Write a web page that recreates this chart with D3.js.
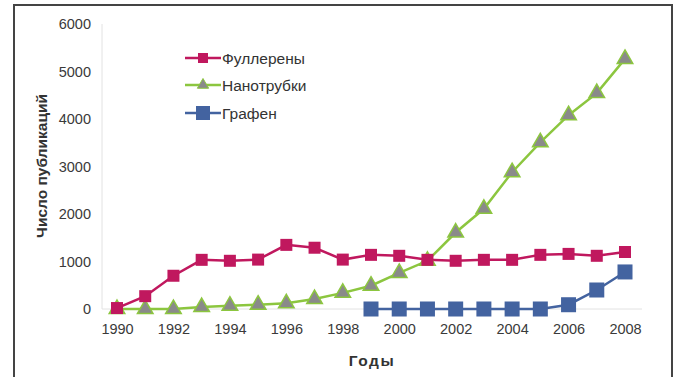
<!DOCTYPE html>
<html><head><meta charset="utf-8">
<script src="https://cdn.jsdelivr.net/npm/d3@7"></script>
<style>body{margin:0;background:#fff;}svg{display:block;font-family:"Liberation Sans",Arial,sans-serif;}</style>
</head><body>
<svg id="c" width="675" height="377"></svg>
<script>
const years = [1990,1991,1992,1993,1994,1995,1996,1997,1998,1999,2000,2001,2002,2003,2004,2005,2006,2007,2008];
const fullerenes = [20,270,700,1035,1015,1040,1350,1290,1040,1140,1120,1035,1015,1035,1035,1140,1160,1120,1200];
const nanotubes = [0,0,0,40,70,90,120,210,340,490,760,1015,1610,2110,2880,3510,4080,4545,5265];
const grapheneYears = [1999,2000,2001,2002,2003,2004,2005,2006,2007,2008];
const graphene = [0,0,0,0,0,0,0,90,400,780];
const yTicks = [0,1000,2000,3000,4000,5000,6000];
const xTicks = [1990,1992,1994,1996,1998,2000,2002,2004,2006,2008];
const seriesNames = ["Фуллерены","Нанотрубки","Графен"];

const svg = d3.select("#c");
svg.append("path").attr("d","M14,377 L14,5 L672,5 L672,377").attr("fill","none").attr("stroke","#444").attr("stroke-width",2);

const x = d3.scaleLinear().domain([1990,2008]).range([117,625]);
const y = d3.scaleLinear().domain([0,6000]).range([309,24]);

svg.append("line").attr("x1",102).attr("x2",102).attr("y1",24).attr("y2",309).attr("stroke","#e2e2e2");
svg.append("line").attr("x1",102).attr("x2",642).attr("y1",309).attr("y2",309).attr("stroke","#e2e2e2");

const tickFont = 14.5;
const yAxis = d3.axisLeft(y).tickValues(yTicks).tickSize(0).tickPadding(0).tickFormat(d3.format("d"));
const ga = svg.append("g").attr("transform","translate(91,0)").call(yAxis);
ga.select(".domain").remove();
ga.selectAll("text").attr("font-size",tickFont).attr("fill","#3a3a3a").attr("font-family","Liberation Sans, Arial, sans-serif");

const xAxis = d3.axisBottom(x).tickValues(xTicks).tickSize(0).tickPadding(0).tickFormat(d3.format("d"));
const gx = svg.append("g").attr("transform","translate(0,324)").call(xAxis);
gx.select(".domain").remove();
gx.selectAll("text").attr("font-size",tickFont).attr("fill","#3a3a3a").attr("font-family","Liberation Sans, Arial, sans-serif");

svg.append("text").attr("transform","translate(47,166) rotate(-90)").attr("text-anchor","middle")
  .attr("font-size",15.5).attr("font-weight","bold").attr("fill","#333").text("Число публикаций");
svg.append("text").attr("x",372).attr("y",366).attr("text-anchor","middle")
  .attr("font-size",15.5).attr("font-weight","bold").attr("fill","#333").attr("letter-spacing",1.5).text("Годы");

const line = d3.line().x(d=>x(d[0])).y(d=>y(d[1]));
const cF="#c0185e", cN="#8cc63f", cG="#4363a0";

const nData = years.map((yr,i)=>[yr,nanotubes[i]]);
const fData = years.map((yr,i)=>[yr,fullerenes[i]]);
const gData = grapheneYears.map((yr,i)=>[yr,graphene[i]]);

svg.append("path").datum(nData).attr("d",line).attr("fill","none").attr("stroke",cN).attr("stroke-width",2.5);
svg.append("path").datum(fData).attr("d",line).attr("fill","none").attr("stroke",cF).attr("stroke-width",2.5);
svg.append("path").datum(gData).attr("d",line).attr("fill","none").attr("stroke",cG).attr("stroke-width",2.5);

const tri = d3.symbol().type(d3.symbolTriangle).size(105);
svg.selectAll(".nt").data(nData).join("path").attr("d",tri)
  .attr("transform",d=>`translate(${x(d[0])},${y(d[1])})`).attr("fill","#8a8a8a").attr("stroke",cN).attr("stroke-width",1.5);
svg.selectAll(".fs").data(fData).join("rect")
  .attr("x",d=>x(d[0])-6).attr("y",d=>y(d[1])-6).attr("width",12).attr("height",12).attr("fill",cF);
svg.selectAll(".gs").data(gData).join("rect")
  .attr("x",d=>x(d[0])-7.5).attr("y",d=>y(d[1])-7.5).attr("width",15).attr("height",15).attr("fill",cG);

const lg = svg.append("g");
const ly = [58,85,113];
const cols=[cF,cN,cG];
seriesNames.forEach((n,i)=>{
  lg.append("line").attr("x1",185).attr("x2",221).attr("y1",ly[i]).attr("y2",ly[i]).attr("stroke",cols[i]).attr("stroke-width",2.5);
  if(i===0) lg.append("rect").attr("x",198).attr("y",ly[i]-5).attr("width",10).attr("height",10).attr("fill",cF);
  if(i===1) lg.append("path").attr("d",d3.symbol().type(d3.symbolTriangle).size(55)).attr("transform",`translate(203,${ly[i]})`).attr("fill","#8a8a8a").attr("stroke",cN);
  if(i===2) lg.append("rect").attr("x",196).attr("y",ly[i]-7).attr("width",14).attr("height",14).attr("fill",cG);
  lg.append("text").attr("x",222).attr("y",ly[i]+5.5).attr("font-size",15.5).attr("fill","#333").text(n);
});
</script>
</body></html>
